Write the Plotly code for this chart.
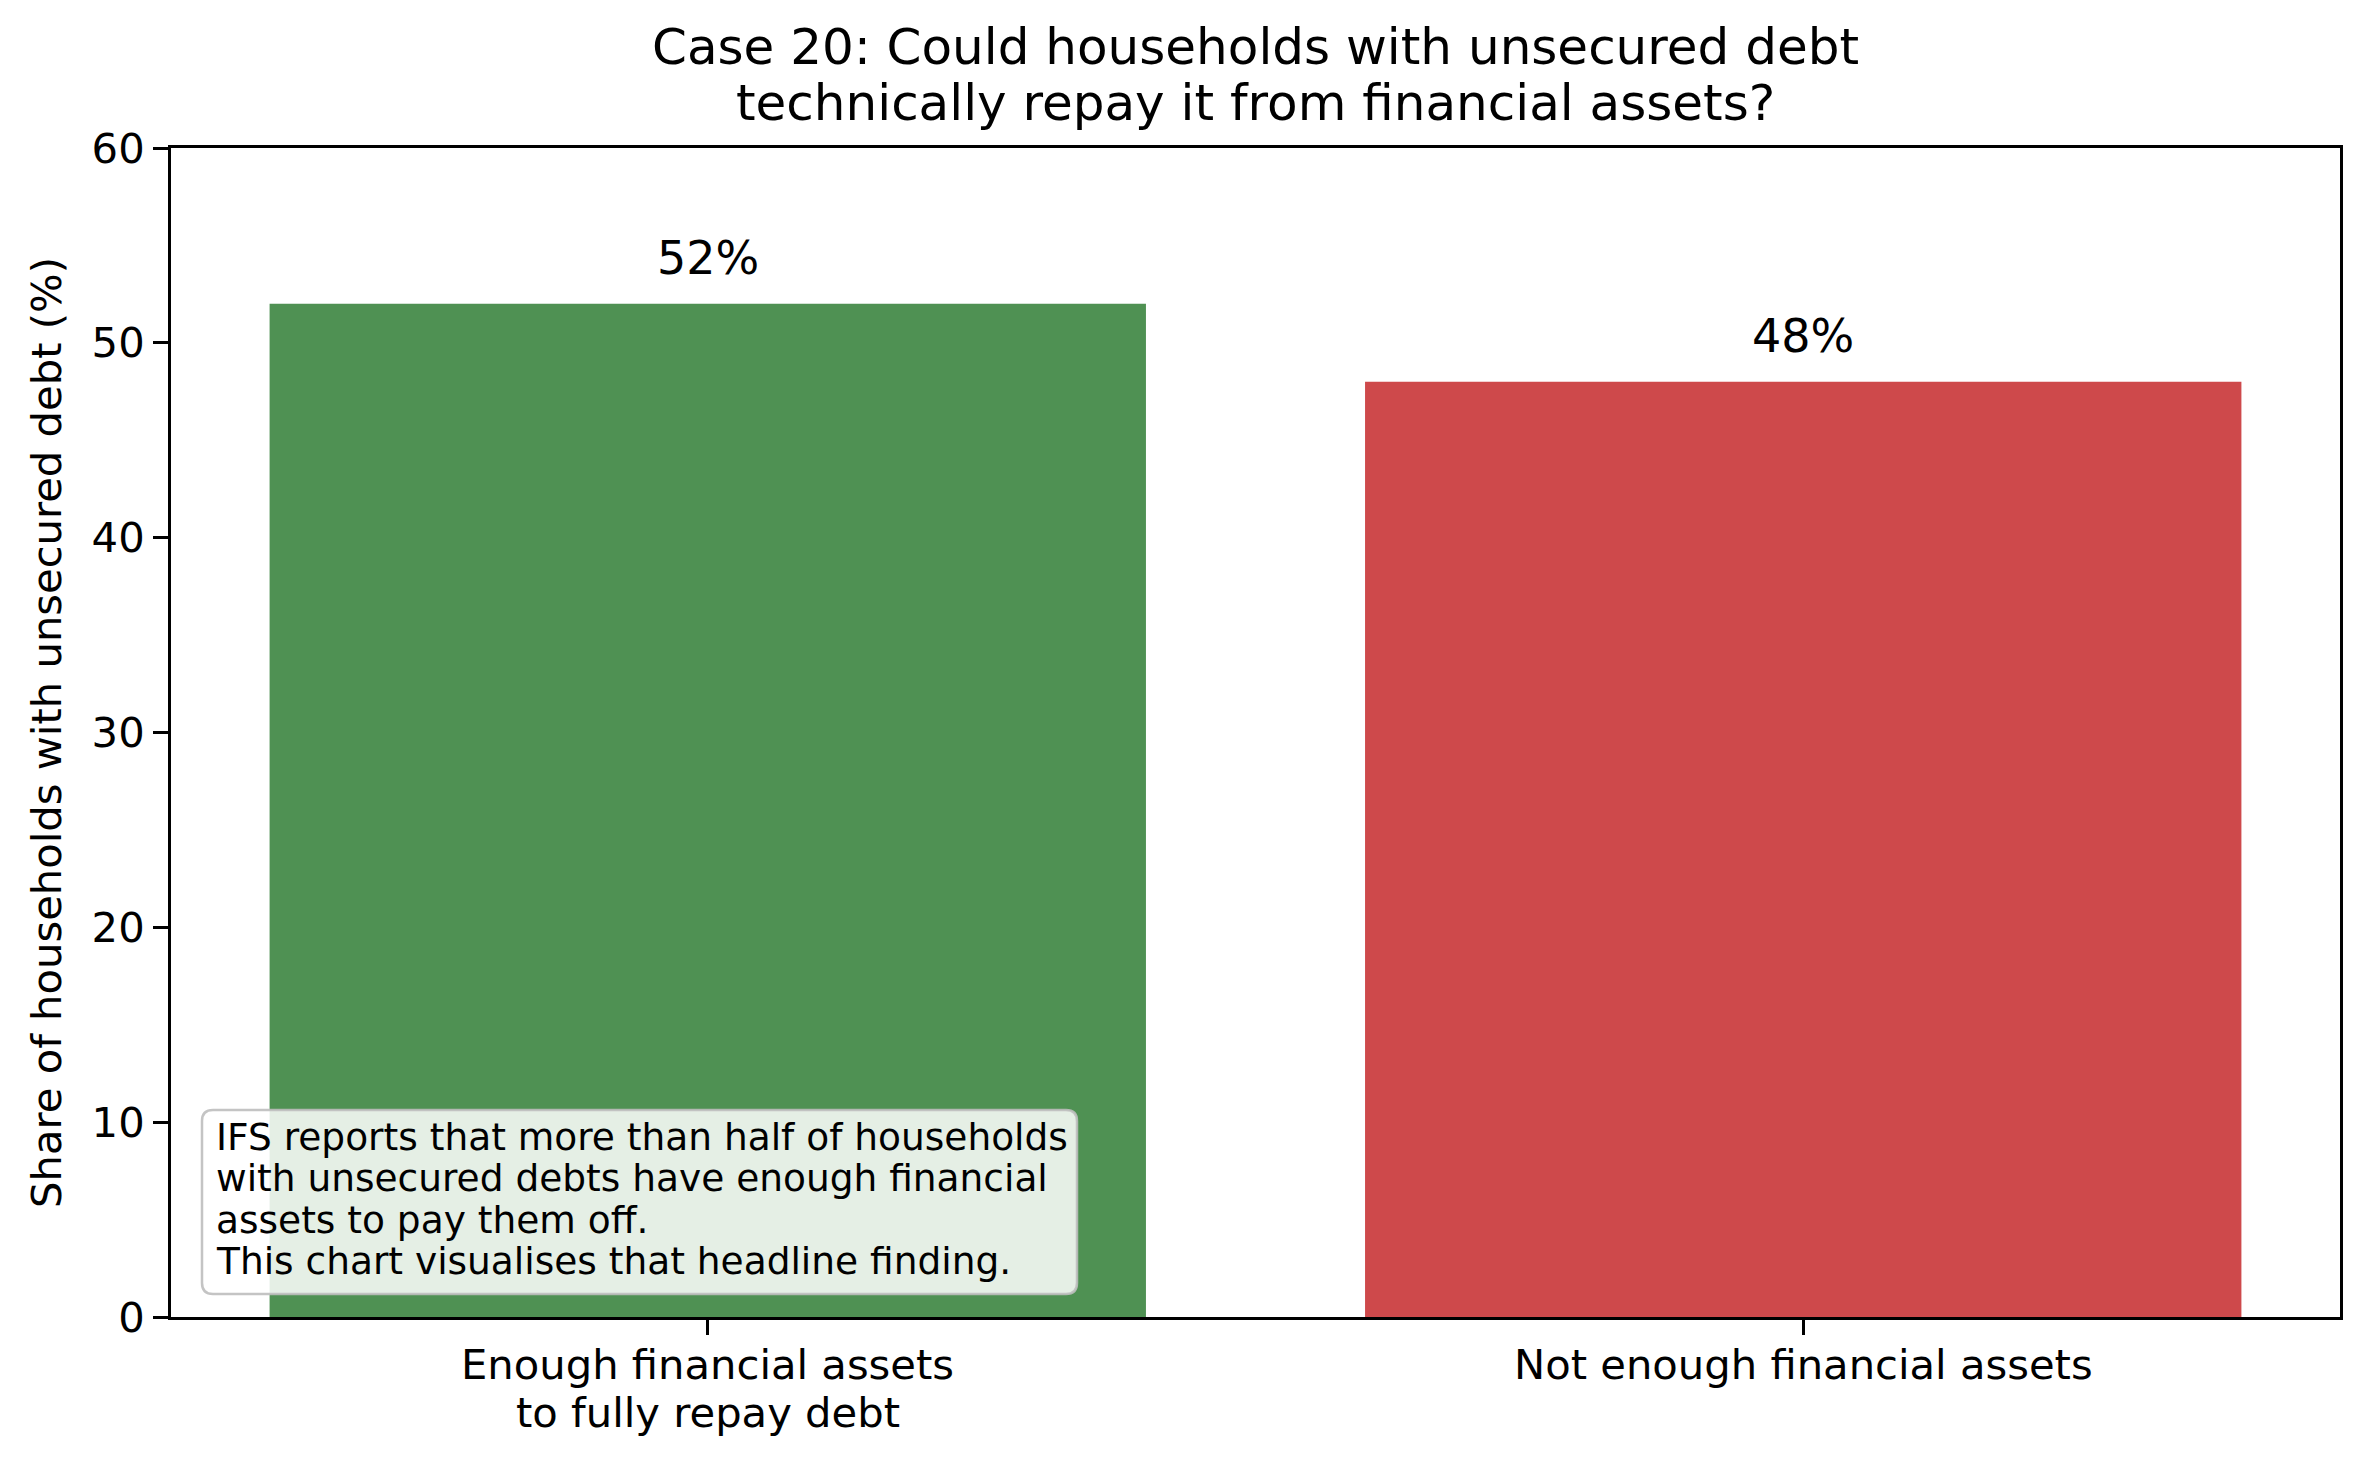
import plotly.graph_objects as go

# ---- data ----
categories = ["Enough financial assets\nto fully repay debt", "Not enough financial assets"]
shares = [52, 48]
bar_colors = ["#4f9153", "#ce494b"]
y_ticks = [0, 10, 20, 30, 40, 50, 60]
title_lines = ["Case 20: Could households with unsecured debt",
               "technically repay it from financial assets?"]
note_lines = ["IFS reports that more than half of households",
              "with unsecured debts have enough financial",
              "assets to pay them off.",
              "This chart visualises that headline finding."]
y_label = "Share of households with unsecured debt (%)"

# ---- geometry (pixels) ----
W, H = 2369, 1467
L, R, T, B = 171, 2340, 148, 1317
FONT = "DejaVu Sans"


def px_x(x):
    return (x - L) / (R - L)


def px_y(y):
    return (B - y) / (B - T)


fig = go.Figure()
fig.add_trace(go.Bar(
    x=categories, y=shares, width=0.8,
    marker=dict(color=bar_colors, line=dict(width=0)),
    hoverinfo="skip",
))

annotations = []
# bar value labels
for c, v in zip(categories, shares):
    annotations.append(dict(
        x=c, y=v, xref="x", yref="y", text=f"{v}%", showarrow=False,
        xanchor="center", yanchor="bottom", yshift=17,
        font=dict(family=FONT, size=46, color="black"),
    ))

# category tick labels (one annotation per line for matplotlib-like spacing)
tick_line_centers = [1364, 1412]
for c in categories:
    for line, yc in zip(c.split("\n"), tick_line_centers):
        annotations.append(dict(
            x=c, y=px_y(yc), xref="x", yref="paper", text=line,
            showarrow=False, xanchor="center", yanchor="middle",
            font=dict(family=FONT, size=41.7, color="black"),
        ))

# title lines
title_centers = [47, 103]
for line, yc in zip(title_lines, title_centers):
    annotations.append(dict(
        x=px_x((L + R) / 2), y=px_y(yc), xref="paper", yref="paper",
        text=line, showarrow=False, xanchor="center", yanchor="middle",
        font=dict(family=FONT, size=50, color="black"),
    ))

# note text lines
note_centers = [1137, 1178, 1220, 1261]
for line, yc in zip(note_lines, note_centers):
    annotations.append(dict(
        x=px_x(214), y=px_y(yc), xref="paper", yref="paper",
        text=line, showarrow=False, xanchor="left", yanchor="middle",
        font=dict(family=FONT, size=37.5, color="black"),
    ))

# rounded note box
bx0, bx1, by0, by1, rr = 202, 1077, 1110, 1294, 11


def P(x, y):
    return f"{px_x(x):.6f},{px_y(y):.6f}"


path = (f"M {P(bx0 + rr, by0)} L {P(bx1 - rr, by0)} Q {P(bx1, by0)} {P(bx1, by0 + rr)} "
        f"L {P(bx1, by1 - rr)} Q {P(bx1, by1)} {P(bx1 - rr, by1)} "
        f"L {P(bx0 + rr, by1)} Q {P(bx0, by1)} {P(bx0, by1 - rr)} "
        f"L {P(bx0, by0 + rr)} Q {P(bx0, by0)} {P(bx0 + rr, by0)} Z")

fig.update_layout(
    width=W, height=H,
    margin=dict(l=L, r=W - R, t=T, b=H - B, autoexpand=False),
    paper_bgcolor="white", plot_bgcolor="white",
    showlegend=False,
    font=dict(family=FONT, size=41.7, color="black"),
    annotations=annotations,
    shapes=[dict(type="path", xref="paper", yref="paper", path=path,
                 fillcolor="rgba(255,255,255,0.85)",
                 line=dict(color="rgba(190,190,190,0.9)", width=2.5),
                 layer="above")],
    bargap=0.2,
)
fig.update_xaxes(
    range=[-0.49, 1.49], showline=True, linecolor="black", linewidth=3,
    mirror=True, ticks="outside", ticklen=15, tickwidth=3, tickcolor="black",
    showgrid=False, zeroline=False, showticklabels=False,
)
fig.update_yaxes(
    range=[0, 60], tickvals=y_ticks, showline=True, linecolor="black",
    linewidth=3, mirror=True, ticks="outside", ticklen=15, tickwidth=3,
    tickcolor="black", showgrid=False, zeroline=False,
    tickfont=dict(family=FONT, size=41.7, color="black"),
    title=dict(text=y_label, font=dict(family=FONT, size=41.7, color="black"),
               standoff=18),
)

fig.write_html("out.html")
